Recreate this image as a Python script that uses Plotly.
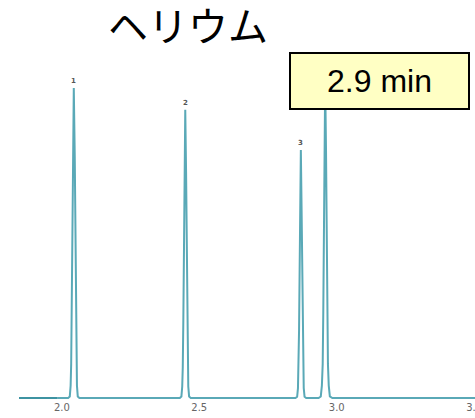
import plotly.graph_objects as go

# Chromatogram points (minutes, signal)
time_min = [
    1.985, 2.023, 2.029, 2.032, 2.034, 2.036, 2.038, 2.040, 2.0435, 2.047, 2.049, 2.051, 2.053, 2.055, 2.058, 2.064,
    2.429, 2.435, 2.438, 2.440, 2.442, 2.444, 2.446, 2.449, 2.452, 2.454, 2.456, 2.458, 2.460, 2.463, 2.469,
    2.850, 2.856, 2.859, 2.861, 2.863, 2.865, 2.867, 2.8695, 2.872, 2.874, 2.876, 2.878, 2.880, 2.883, 2.889,
    2.934, 2.942, 2.946, 2.949, 2.951, 2.953, 2.955, 2.958, 2.961, 2.963, 2.965, 2.968, 2.971, 2.975, 2.984,
    3.510,
]
signal = [
    0, 0, 0.5, 4, 11, 27, 51, 78, 100, 78, 51, 27, 11, 4, 0.5, 0,
    0, 0.5, 3.7, 10, 25, 47, 73, 93, 73, 47, 25, 10, 3.7, 0.5, 0,
    0, 0.4, 3.2, 9, 22, 41, 62, 80, 62, 41, 22, 9, 3.2, 0.4, 0,
    0, 0.5, 4, 11, 27, 51, 80, 102, 80, 51, 27, 11, 4, 0.5, 0,
    0,
]
lead_time = [1.8442, 1.985]
lead_signal = [0, 0]

peak_ids = ["1", "2", "3"]
peak_rt = [2.0435, 2.449, 2.8695]
peak_height = [100, 93, 80]

tick_vals = [2.0, 2.5, 3.0, 3.5]
tick_text = ["2.0", "2.5", "3.0", "3.5"]

title_text = "ヘリウム"
box_text = "2.9 min"

fig = go.Figure()
fig.add_trace(go.Scatter(x=time_min, y=signal, mode="lines",
                         line=dict(color="#5aa9b7", width=2), hoverinfo="skip"))
fig.add_trace(go.Scatter(x=lead_time, y=lead_signal, mode="lines",
                         line=dict(color="#3d93a2", width=2), hoverinfo="skip"))

for pid, rt, h in zip(peak_ids, peak_rt, peak_height):
    fig.add_annotation(x=rt, y=h, text=f"<b>{pid}</b>", showarrow=False,
                       yanchor="bottom", yshift=1,
                       font=dict(family="DejaVu Sans", size=7, color="#555555"))

fig.add_annotation(xref="paper", yref="paper", x=0.7906, y=0.886,
                   xanchor="center", yanchor="middle", text=box_text, showarrow=False,
                   width=177, height=54, bgcolor="#ffffc4", bordercolor="#000000",
                   borderwidth=2, borderpad=0,
                   font=dict(family="Liberation Sans", size=32, color="#000000"))

fig.update_layout(
    width=475, height=418,
    margin=dict(l=19, r=0, t=40, b=18, autoexpand=False),
    paper_bgcolor="white", plot_bgcolor="white",
    showlegend=False,
    title=dict(text=title_text, x=188 / 475, xanchor="center", xref="container",
               y=1 - 27 / 418, yref="container", yanchor="middle",
               font=dict(family="Noto Sans CJK JP", size=40, color="#000000")),
    xaxis=dict(range=[1.8442, 3.503], tickvals=tick_vals, ticktext=tick_text,
               showgrid=False, zeroline=False, showline=False, ticks="",
               ticklabeloverflow="allow", automargin=False,
               tickfont=dict(family="DejaVu Sans", size=10, color="#666666")),
    yaxis=dict(range=[-0.645, 115.5], visible=False, showgrid=False, zeroline=False),
)

fig.write_html("out.html", config={"displayModeBar": False})

# remove the browser's default page margin so the figure sits at the top-left corner
with open("out.html", encoding="utf-8") as fh:
    html = fh.read()
html = html.replace("<body>", '<body style="margin:0;padding:0;overflow:hidden">', 1)
with open("out.html", "w", encoding="utf-8") as fh:
    fh.write(html)
